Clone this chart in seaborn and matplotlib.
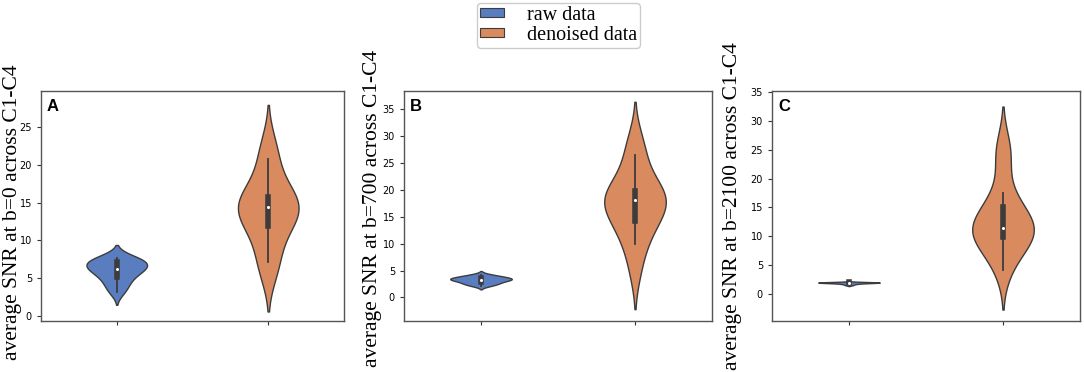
import numpy as np
import pandas as pd
import matplotlib
matplotlib.use("Agg")
import matplotlib.pyplot as plt
import seaborn as sns
from matplotlib.patches import Patch

# average SNR values per subject
groups = ["raw data", "denoised data"]

raw_b0 = [3.1, 3.8, 4.6, 4.95, 5.6, 6.0, 6.1, 6.3, 6.6, 7.0, 7.15, 7.3, 7.5, 7.7]
den_b0 = [6.0, 7.1, 9.8, 11.8, 12.4, 13.6, 14.2, 14.6, 15.0, 15.4, 15.8, 18.0, 20.8, 22.5]

raw_b700 = [2.2, 2.4, 2.6, 2.8, 3.0, 3.2, 3.3, 3.35, 3.45, 3.55, 3.65, 3.8, 4.0, 4.2]
den_b700 = [5.2, 10.0, 12.0, 13.8, 15.5, 17.0, 17.8, 18.4, 18.8, 19.2, 20.0, 23.0, 26.5, 29.0]

raw_b2100 = [1.6, 1.75, 1.85, 1.92, 1.97, 2.0, 2.02, 2.04, 2.05, 2.06, 2.07, 2.08, 2.09, 2.1]
den_b2100 = [4.3, 7.0, 9.0, 9.8, 10.5, 11.0, 11.2, 11.6, 12.5, 14.0, 15.5, 17.5, 23.5, 25.5]

panels = [
    ("A", "average SNR at b=0 across C1-C4", raw_b0, den_b0),
    ("B", "average SNR at b=700 across C1-C4", raw_b700, den_b700),
    ("C", "average SNR at b=2100 across C1-C4", raw_b2100, den_b2100),
]

# layout in pixels of the 1084x372 figure: left, right, top, bottom of each axes
W, H = 1084, 372
boxes = [(41, 344, 91, 320.5), (404, 712, 91, 320.5), (772, 1080, 91, 320.5)]
ylims = [(-0.65, 29.8), (-4.3, 38.4), (-4.5, 35.1)]
label_x = [-0.064, -0.072, -0.096]
label_y = [0.47, 0.49, 0.50]

palette = sns.color_palette("muted", 2)

fig = plt.figure(figsize=(W / 100, H / 100), dpi=100)

for (letter, ylabel, raw, den), (l, r, t, b), ylim, lx, ly in zip(
        panels, boxes, ylims, label_x, label_y):
    ax = fig.add_axes([l / W, 1 - b / H, (r - l) / W, (b - t) / H])
    df = pd.DataFrame({
        "type": [groups[0]] * len(raw) + [groups[1]] * len(den),
        "snr": raw + den,
    })
    sns.violinplot(
        data=df, x="type", y="snr", hue="type", order=groups, hue_order=groups,
        palette=palette, width=0.4, density_norm="width", linecolor="#3c3c3c",
        linewidth=1.0, legend=False, ax=ax,
        inner_kws=dict(box_width=4, whis_width=1.3, marker="o", markersize=1.4),
    )
    ax.set_ylim(*ylim)
    ax.set_xticks([0, 1])
    ax.set_xticklabels([])
    ax.set_xlabel("")
    ax.set_ylabel(ylabel, family="Liberation Serif", fontsize=15.5)
    ax.yaxis.set_label_coords(lx, ly)
    ax.tick_params(labelsize=7, length=3, color="#333333")
    for sp in ax.spines.values():
        sp.set_color("#555555")
        sp.set_linewidth(1.0)
    ax.text(0.02, 0.965, letter, transform=ax.transAxes, ha="left", va="top",
            fontsize=12, fontweight="bold", family="Liberation Sans")

handles = [Patch(facecolor=sns.desaturate(c, 0.75), edgecolor="#3c3c3c", linewidth=0.8)
           for c in palette]
fig.legend(handles, groups, loc="upper center", bbox_to_anchor=(0.515, 0.993),
           borderaxespad=0.0,
           prop={"family": "Liberation Serif", "size": 14.5},
           handlelength=1.2, handleheight=0.3, handletextpad=1.15,
           labelspacing=0.05, borderpad=0.15, framealpha=1, edgecolor="#cccccc",
           fancybox=True)

fig.savefig("out.png", dpi=100)
